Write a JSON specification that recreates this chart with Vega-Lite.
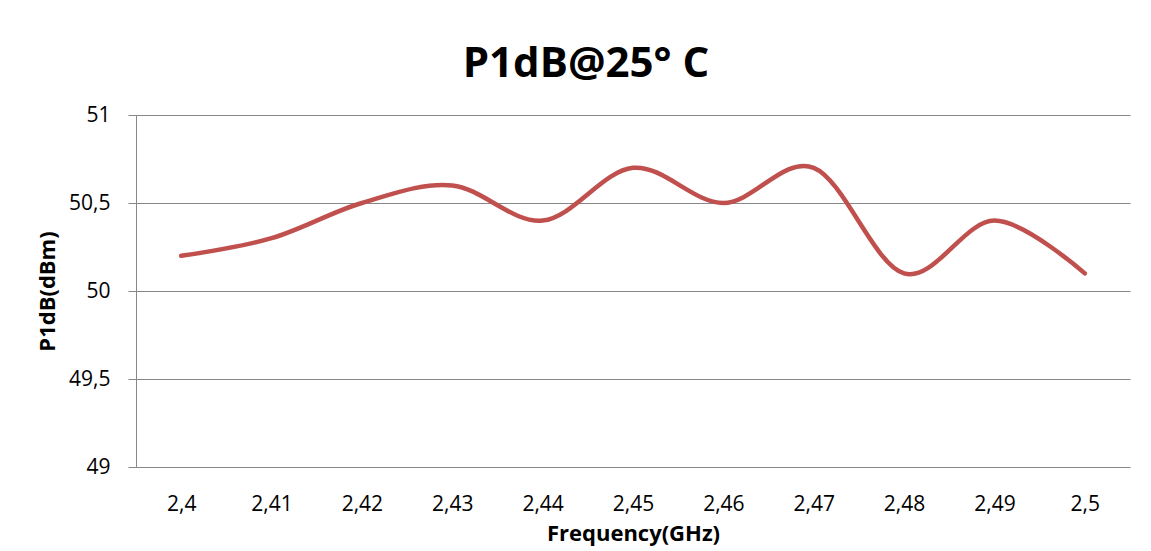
{
  "$schema": "https://vega.github.io/schema/vega-lite/v6.json",
  "width": 994,
  "height": 352,
  "autosize": {"type": "none"},
  "padding": {"left": 136, "top": 115, "right": 21, "bottom": 84},
  "background": "white",
  "config": {
    "font": "Open Sans",
    "view": {"stroke": null},
    "axis": {"gridColor": "#888888", "domainColor": "#888888", "tickColor": "#888888", "labelColor": "#000000", "titleColor": "#000000"}
  },
  "title": {
    "text": "P1dB@25°  C",
    "fontSize": 42,
    "fontWeight": "bold",
    "font": "Open Sans",
    "anchor": "middle",
    "baseline": "bottom",
    "dx": -47,
    "dy": 53,
    "offset": 29,
    "color": "#000000"
  },
  "data": {
    "values": [
      {"f": "2,4", "p": 50.2},
      {"f": "2,41", "p": 50.3},
      {"f": "2,42", "p": 50.5},
      {"f": "2,43", "p": 50.6},
      {"f": "2,44", "p": 50.4},
      {"f": "2,45", "p": 50.7},
      {"f": "2,46", "p": 50.5},
      {"f": "2,47", "p": 50.7},
      {"f": "2,48", "p": 50.1},
      {"f": "2,49", "p": 50.4},
      {"f": "2,5", "p": 50.1}
    ]
  },
  "mark": {"type": "line", "interpolate": "cardinal", "color": "#C0504D", "strokeWidth": 4.5, "strokeCap": "round"},
  "encoding": {
    "x": {
      "field": "f",
      "type": "ordinal",
      "sort": null,
      "scale": {"type": "point", "padding": 0.5},
      "axis": {
        "title": "Frequency(GHz)",
        "titleFontSize": 22,
        "titleFontWeight": "bold",
        "titlePadding": 9,
        "labelAngle": 0,
        "labelFontSize": 21,
        "labelPadding": 26,
        "ticks": false,
        "domain": false,
        "grid": false
      }
    },
    "y": {
      "field": "p",
      "type": "quantitative",
      "scale": {"domain": [49, 51], "nice": false, "zero": false},
      "axis": {
        "title": "P1dB(dBm)",
        "titleFontSize": 22,
        "titleFontWeight": "bold",
        "titlePadding": 9,
        "values": [49, 49.5, 50, 50.5, 51],
        "labelExpr": "replace(toString(datum.value), '.', ',')",
        "labelFontSize": 21,
        "labelPadding": 18,
        "tickSize": 8,
        "grid": true,
        "domain": true
      }
    }
  }
}
